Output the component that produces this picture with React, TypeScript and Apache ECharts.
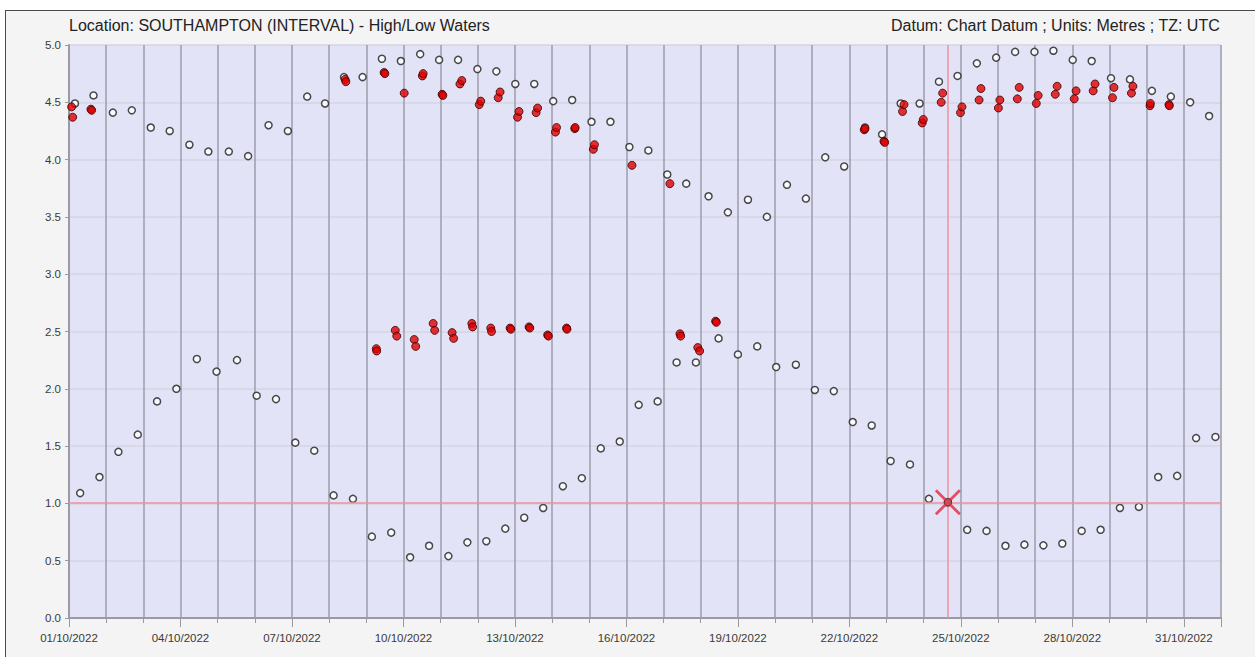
import React, { useEffect, useRef } from "react";
import * as echarts from "echarts";

// Day offsets are days since 01/10/2022 00:00 UTC; values in metres.
const startDate = Date.UTC(2022, 9, 1);
const dayCount = 31;

const titleLeft = "Location: SOUTHAMPTON (INTERVAL) - High/Low Waters";
const titleRight = "Datum: Chart Datum ; Units: Metres ; TZ: UTC";

const predictedHigh: [number, number][] = [
  [0.16, 4.49], [0.66, 4.56], [1.18, 4.41], [1.69, 4.43], [2.2, 4.28], [2.71, 4.25],
  [3.24, 4.13], [3.75, 4.07], [4.3, 4.07], [4.82, 4.03], [5.37, 4.3], [5.89, 4.25],
  [6.41, 4.55], [6.89, 4.49], [7.4, 4.72], [7.9, 4.72], [8.42, 4.88], [8.93, 4.86],
  [9.45, 4.92], [9.96, 4.87], [10.47, 4.87], [10.99, 4.79], [11.5, 4.77], [12.01, 4.66],
  [12.52, 4.66], [13.03, 4.51], [13.54, 4.52], [14.06, 4.33], [14.57, 4.33], [15.08, 4.11],
  [15.59, 4.08], [16.1, 3.87], [16.61, 3.79], [17.21, 3.68], [17.73, 3.54], [18.27, 3.65],
  [18.78, 3.5], [19.32, 3.78], [19.83, 3.66], [20.35, 4.02], [20.86, 3.94], [21.42, 4.28],
  [21.88, 4.22], [22.38, 4.49], [22.89, 4.49], [23.41, 4.68], [23.91, 4.73], [24.43, 4.84],
  [24.95, 4.89], [25.46, 4.94], [25.98, 4.94], [26.49, 4.95], [27.01, 4.87], [27.52, 4.86],
  [28.04, 4.71], [28.55, 4.7], [29.14, 4.6], [29.65, 4.55], [30.17, 4.5], [30.68, 4.38],
];

const predictedLow: [number, number][] = [
  [0.3, 1.09], [0.82, 1.23], [1.33, 1.45], [1.85, 1.6], [2.37, 1.89], [2.89, 2.0],
  [3.44, 2.26], [3.97, 2.15], [4.52, 2.25], [5.05, 1.94], [5.57, 1.91], [6.09, 1.53],
  [6.6, 1.46], [7.12, 1.07], [7.64, 1.04], [8.15, 0.71], [8.67, 0.745], [9.18, 0.53],
  [9.69, 0.63], [10.21, 0.54], [10.72, 0.66], [11.23, 0.67], [11.74, 0.78], [12.25, 0.875],
  [12.76, 0.96], [13.29, 1.15], [13.8, 1.22], [14.31, 1.48], [14.82, 1.54], [15.33, 1.86],
  [15.84, 1.89], [16.35, 2.23], [16.87, 2.23], [17.48, 2.44], [18.0, 2.3], [18.52, 2.37],
  [19.03, 2.19], [19.56, 2.21], [20.07, 1.99], [20.58, 1.98], [21.09, 1.71], [21.6, 1.68],
  [22.11, 1.37], [22.63, 1.34], [23.14, 1.04], [23.65, 1.01], [24.17, 0.77], [24.69, 0.76],
  [25.2, 0.63], [25.71, 0.64], [26.22, 0.634], [26.73, 0.65], [27.25, 0.76], [27.76, 0.77],
  [28.28, 0.96], [28.79, 0.97], [29.31, 1.23], [29.82, 1.24], [30.33, 1.57], [30.85, 1.58],
];

const observedHigh: [number, number][] = [
  [0.07, 4.46], [0.1, 4.37], [0.59, 4.44], [0.61, 4.43],
  [7.43, 4.7], [7.45, 4.68], [8.48, 4.76], [8.5, 4.75], [9.02, 4.58],
  [9.51, 4.73], [9.53, 4.75], [10.04, 4.57], [10.06, 4.56],
  [10.52, 4.66], [10.57, 4.69], [11.04, 4.48], [11.08, 4.51],
  [11.55, 4.54], [11.6, 4.59], [12.07, 4.37], [12.11, 4.42],
  [12.57, 4.41], [12.61, 4.45], [13.09, 4.24], [13.12, 4.28],
  [13.61, 4.27], [13.62, 4.28], [14.11, 4.09], [14.14, 4.13],
  [15.15, 3.95], [16.17, 3.79],
  [21.4, 4.26], [21.42, 4.27], [21.93, 4.16], [21.95, 4.15],
  [22.43, 4.42], [22.47, 4.48], [22.96, 4.32], [22.99, 4.35],
  [23.47, 4.5], [23.51, 4.58], [23.99, 4.41], [24.03, 4.46],
  [24.49, 4.52], [24.54, 4.62], [25.01, 4.45], [25.05, 4.52],
  [25.52, 4.53], [25.57, 4.63], [26.03, 4.49], [26.08, 4.56],
  [26.54, 4.57], [26.59, 4.64], [27.05, 4.53], [27.1, 4.6],
  [27.56, 4.6], [27.61, 4.66], [28.08, 4.54], [28.12, 4.63],
  [28.59, 4.58], [28.63, 4.64], [29.09, 4.47], [29.1, 4.49],
  [29.6, 4.48], [29.61, 4.47],
];

const observedLow: [number, number][] = [
  [8.27, 2.35], [8.28, 2.33], [8.78, 2.51], [8.82, 2.46], [9.29, 2.43], [9.33, 2.37],
  [9.8, 2.57], [9.84, 2.51], [10.31, 2.49], [10.35, 2.44], [10.84, 2.57], [10.86, 2.54],
  [11.35, 2.53], [11.37, 2.5], [11.87, 2.53], [11.89, 2.52], [12.38, 2.54], [12.4, 2.53],
  [12.88, 2.47], [12.9, 2.46], [13.39, 2.53], [13.4, 2.52],
  [16.44, 2.48], [16.46, 2.46], [16.92, 2.36], [16.97, 2.33], [17.4, 2.59], [17.42, 2.58],
];

const selectedPoint: [number, number][] = [[23.65, 1.01]];

const crossPath =
  "path://M0,2L2,0L13,11L24,0L26,2L15,13L26,24L24,26L13,15L2,26L0,24L11,13Z";

function formatDay(v: number): string {
  if (Math.abs(v % 3) > 1e-6) return "";
  const d = new Date(startDate + v * 86400000);
  const dd = String(d.getUTCDate()).padStart(2, "0");
  const mm = String(d.getUTCMonth() + 1).padStart(2, "0");
  return `${dd}/${mm}/${d.getUTCFullYear()}`;
}

export default function App() {
  const ref = useRef<HTMLDivElement>(null);

  useEffect(() => {
    if (!ref.current) return;
    const chart = echarts.init(ref.current, undefined, { renderer: "svg" });
    const font = "Arial, 'Liberation Sans', sans-serif";
    const openStyle = { color: "#ffffff", borderColor: "#1e1e1e", borderWidth: 1.5 };
    const redStyle = { color: "#e00000", borderColor: "#3a0000", borderWidth: 1 };

    chart.setOption({
      animation: false,
      backgroundColor: "transparent",
      textStyle: { fontFamily: font },
      graphic: [
        {
          type: "text",
          left: 69,
          top: 17,
          style: { text: titleLeft, fontSize: 16, fill: "#222", fontFamily: font },
        },
        {
          type: "text",
          right: 35,
          top: 17,
          style: { text: titleRight, fontSize: 16, fill: "#222", fontFamily: font },
        },
      ],
      grid: {
        left: 69,
        top: 45,
        width: 1152,
        height: 573,
        show: true,
        backgroundColor: "#e3e3f7",
        borderWidth: 0,
      },
      xAxis: [
        {
          type: "value",
          min: 0,
          max: dayCount,
          interval: 1,
          axisLine: { show: true, onZero: false, lineStyle: { color: "#9a9aa2", width: 2 } },
          axisTick: { show: true, length: 5, lineStyle: { color: "#9a9aa2", width: 1 } },
          axisLabel: {
            formatter: (v: number) => formatDay(v),
            color: "#3a3a3a",
            fontSize: 11.5,
            margin: 14,
            fontFamily: font,
            showMaxLabel: false,
          },
          splitLine: { show: true, lineStyle: { color: "#9d9dac", width: 1.5 } },
        },
        {
          type: "value",
          min: 0,
          max: dayCount,
          interval: 3,
          position: "bottom",
          axisLine: { show: false },
          axisTick: { show: true, length: 9, lineStyle: { color: "#9a9aa2", width: 1 } },
          axisLabel: { show: false },
          splitLine: { show: false },
        },
      ],
      yAxis: {
        type: "value",
        min: 0,
        max: 5,
        interval: 0.5,
        axisLine: { show: true, lineStyle: { color: "#9a9aa2", width: 2 } },
        axisTick: { show: true, length: 4, lineStyle: { color: "#9a9aa2" } },
        axisLabel: {
          formatter: (v: number) => v.toFixed(1),
          color: "#3a3a3a",
          fontSize: 11.5,
          margin: 8,
          fontFamily: font,
        },
        splitLine: { show: true, lineStyle: { color: "#d5d5e5", width: 1.5 } },
      },
      series: [
        {
          type: "scatter",
          name: "Predicted high",
          data: predictedHigh,
          symbol: "circle",
          symbolSize: 7,
          itemStyle: openStyle,
          z: 3,
          markLine: {
            silent: true,
            symbol: "none",
            label: { show: false },
            lineStyle: { color: "#f0909a", width: 1.5, type: "solid" },
            data: [{ xAxis: selectedPoint[0][0] }, { yAxis: selectedPoint[0][1] }],
          },
        },
        {
          type: "scatter",
          name: "Predicted low",
          data: predictedLow,
          symbol: "circle",
          symbolSize: 7,
          itemStyle: openStyle,
          z: 3,
        },
        {
          type: "scatter",
          name: "Observed high",
          data: observedHigh,
          symbol: "circle",
          symbolSize: 8,
          itemStyle: redStyle,
          z: 4,
        },
        {
          type: "scatter",
          name: "Observed low",
          data: observedLow,
          symbol: "circle",
          symbolSize: 8,
          itemStyle: redStyle,
          z: 4,
        },
        {
          type: "scatter",
          name: "Selected",
          data: selectedPoint,
          symbol: "circle",
          symbolSize: 7,
          itemStyle: { color: "#a8a8b0", borderColor: "#333", borderWidth: 1.5 },
          z: 5,
        },
        {
          type: "scatter",
          name: "Cursor",
          data: selectedPoint,
          symbol: crossPath,
          symbolSize: 26,
          itemStyle: { color: "#e8283c" },
          z: 6,
        },
      ],
    });

    return () => chart.dispose();
  }, []);

  return (
    <div
      style={{
        position: "absolute",
        left: 0,
        top: 0,
        width: 1255,
        height: 657,
        overflow: "hidden",
        background: "#ffffff",
      }}
    >
      <div
        style={{
          position: "absolute",
          left: 5,
          top: 10,
          width: 1300,
          height: 700,
          border: "1px solid #4a4a4a",
          background: "#f4f4f4",
        }}
      />
      <div
        ref={ref}
        style={{ position: "absolute", left: 0, top: 0, width: 1255, height: 657 }}
      />
    </div>
  );
}
